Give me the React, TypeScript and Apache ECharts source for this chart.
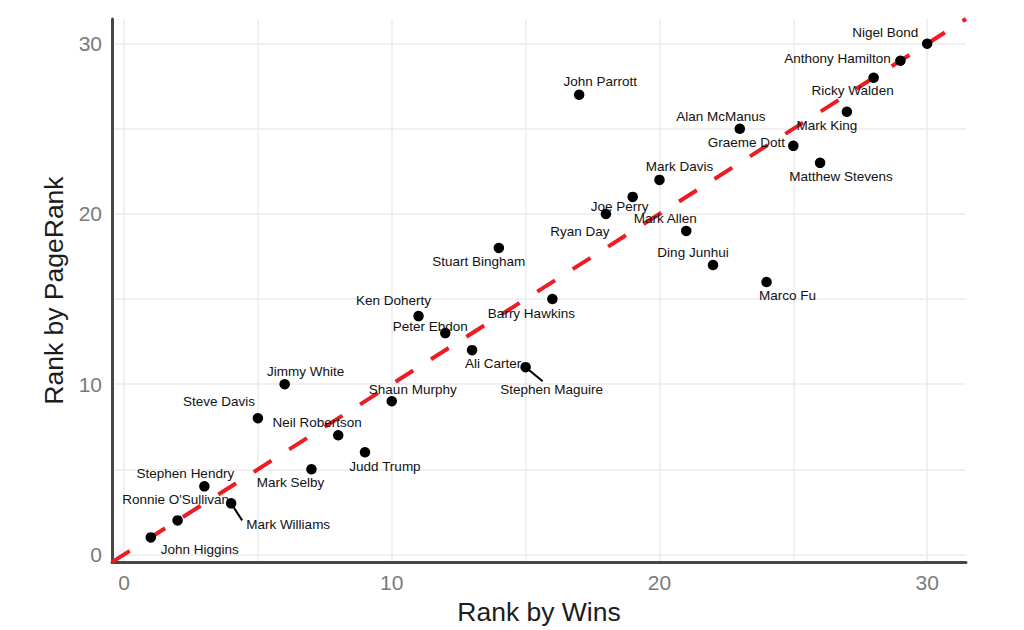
import React, { useEffect, useRef } from "react";
import * as echarts from "echarts";

// ---- data ----
const PLAYERS = [
  "John Higgins", "Ronnie O'Sullivan", "Stephen Hendry", "Mark Williams", "Steve Davis",
  "Jimmy White", "Mark Selby", "Neil Robertson", "Judd Trump", "Shaun Murphy",
  "Ken Doherty", "Peter Ebdon", "Ali Carter", "Stuart Bingham", "Stephen Maguire",
  "Barry Hawkins", "John Parrott", "Ryan Day", "Joe Perry", "Mark Davis",
  "Mark Allen", "Ding Junhui", "Alan McManus", "Marco Fu", "Graeme Dott",
  "Matthew Stevens", "Mark King", "Ricky Walden", "Anthony Hamilton", "Nigel Bond",
];
const RANK_BY_WINS = [
  1, 2, 3, 4, 5, 6, 7, 8, 9, 10, 11, 12, 13, 14, 15,
  16, 17, 18, 19, 20, 21, 22, 23, 24, 25, 26, 27, 28, 29, 30,
];
const RANK_BY_PAGERANK = [
  1, 2, 4, 3, 8, 10, 5, 7, 6, 9, 14, 13, 12, 18, 11,
  15, 27, 20, 21, 22, 19, 17, 25, 16, 24, 23, 26, 28, 29, 30,
];
const TICK_LABELS = [0, 10, 20, 30];
const GRID_VALUES = [0, 5, 10, 15, 20, 25, 30];
const AXIS_MIN = -0.45;
const AXIS_MAX = 31.45;

// ---- label layout (pixel offsets from each point, like ggrepel) ----
const LABEL_OFFSETS: [number, number][] = [
  [49, 12], [-2, -21], [-19, -13], [57, 21], [-39, -17],
  [21, -13], [-21, 13], [-21, -13], [20, 14], [21, -12],
  [-25, -16], [-15, -7], [21, 13], [-20, 14], [26, 22],
  [-21, 14], [21, -13], [-26, 18], [-13, 10], [20, -13],
  [-21, -12], [-20, -13], [-19, -12], [21, 13], [-47, -3],
  [21, 14], [-20, 14], [-21, 13], [-63, -2], [-42, -11],
];
// connector segments: player index -> end offset in pixels
const CONNECTORS: { index: number; end: [number, number] }[] = [
  { index: 14, end: [17, 14] },
  { index: 3, end: [11, 17] },
];

const FONT = "'Liberation Sans', Arial, Helvetica, sans-serif";

export default function App() {
  const ref = useRef<HTMLDivElement>(null);

  useEffect(() => {
    if (!ref.current) return;
    const chart = echarts.init(ref.current, undefined, { renderer: "svg" });

    const labelFormatter = (v: number) =>
      TICK_LABELS.some((t) => Math.abs(t - v) < 1e-9) ? String(v) : "";

    const axisCommon = {
      type: "value" as const,
      min: AXIS_MIN,
      max: AXIS_MAX,
      splitLine: { show: false },
      axisTick: { show: false },
      axisLine: { show: true, onZero: false, lineStyle: { color: "#474747", width: 3 } },
      axisLabel: {
        color: "#7a7a7a",
        fontSize: 21,
        fontFamily: FONT,
        margin: 10,
        formatter: labelFormatter,
      },
      nameLocation: "middle" as const,
      nameTextStyle: { fontSize: 26.5, color: "#1c1c1c", fontFamily: FONT },
    };

    const scatterData = PLAYERS.map((name, i) => ({
      name,
      value: [RANK_BY_WINS[i], RANK_BY_PAGERANK[i]],
      label: { offset: LABEL_OFFSETS[i] },
    }));

    chart.setOption({
      animation: false,
      backgroundColor: "#ffffff",
      grid: { left: 112, right: 58, top: 19, bottom: 66 },
      xAxis: { ...axisCommon, name: "Rank by Wins", nameGap: 33 },
      yAxis: { ...axisCommon, name: "Rank by PageRank", nameGap: 42 },
      series: [
        {
          type: "line",
          data: [],
          silent: true,
          z: 0,
          zlevel: 0,
          markLine: {
            silent: true,
            z: 0,
            symbol: ["none", "none"],
            label: { show: false },
            emphasis: { disabled: true },
            lineStyle: { type: "solid", color: "#ebebeb", width: 1.5 },
            data: [
              ...GRID_VALUES.map((v) => ({ xAxis: v })),
              ...GRID_VALUES.map((v) => ({ yAxis: v })),
            ],
          },
        },
        {
          type: "line",
          data: [
            [AXIS_MIN, AXIS_MIN],
            [AXIS_MAX, AXIS_MAX],
          ],
          showSymbol: false,
          silent: true,
          z: 2,
          lineStyle: { color: "#ee1b24", width: 4, type: [21, 21] },
        },
        {
          type: "scatter",
          z: 3,
          symbol: "circle",
          symbolSize: 10.5,
          itemStyle: { color: "#000000", opacity: 1 },
          label: {
            show: true,
            position: "inside",
            formatter: "{b}",
            fontSize: 13.5,
            color: "#111111",
            fontFamily: FONT,
          },
          emphasis: { disabled: true },
          data: scatterData,
        },
      ],
    });

    const graphics = CONNECTORS.map((c) => {
      const p = chart.convertToPixel({ seriesIndex: 2 }, [
        RANK_BY_WINS[c.index],
        RANK_BY_PAGERANK[c.index],
      ]) as number[];
      return {
        type: "line",
        z: 10,
        shape: { x1: p[0], y1: p[1], x2: p[0] + c.end[0], y2: p[1] + c.end[1] },
        style: { stroke: "#000000", lineWidth: 2 },
      };
    });
    chart.setOption({ graphic: graphics });

    return () => chart.dispose();
  }, []);

  return (
    <div
      ref={ref}
      style={{ position: "fixed", left: 0, top: 0, width: 1024, height: 630, background: "#fff" }}
    />
  );
}
